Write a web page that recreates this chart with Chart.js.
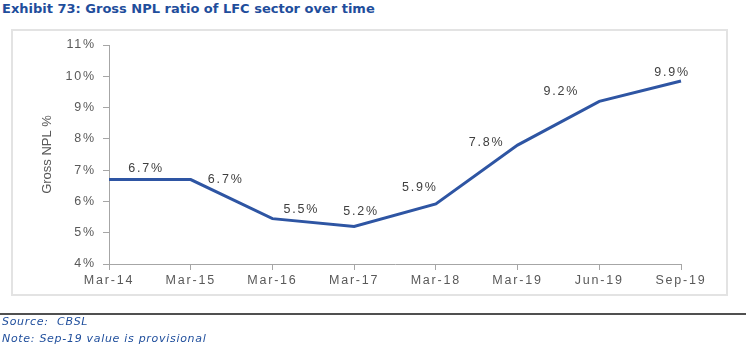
<!DOCTYPE html>
<html>
<head>
<meta charset="utf-8">
<script src="https://cdn.jsdelivr.net/npm/chart.js@4.4.0/dist/chart.umd.min.js"></script>
<style>
  body { margin: 0; background: #fff; }
  #wrap { position: relative; width: 750px; height: 349px; overflow: hidden; }
  #title { position: absolute; left: 2px; top: 1px; font: bold 13px "DejaVu Sans", sans-serif; color: #1f4e9c; white-space: nowrap; }
  #frame { position: absolute; left: 11px; top: 29px; width: 713px; height: 263px; border: 2px solid #e3e3e3; }
  #rule { position: absolute; left: 0; top: 313px; width: 746px; height: 0; border-top: 2px solid #505050; }
  .foot { position: absolute; left: 2px; font: italic 11px "DejaVu Sans", sans-serif; letter-spacing: 0.7px; color: #1f4e9c; white-space: nowrap; }
  #chart { position: absolute; left: 0; top: 0; }
</style>
</head>
<body>
<div id="wrap">
  <div id="title">Exhibit 73: Gross NPL ratio of LFC sector over time</div>
  <div id="frame"></div>
  <canvas id="chart" width="750" height="349"></canvas>
  <div id="rule"></div>
  <div class="foot" style="top:315px">Source:&nbsp; CBSL</div>
  <div class="foot" style="top:332px">Note: Sep-19 value is provisional</div>
</div>
<script>
// Gross NPL ratio (%)
const periods = ['Mar-14', 'Mar-15', 'Mar-16', 'Mar-17', 'Mar-18', 'Mar-19', 'Jun-19', 'Sep-19'];
const npl = [6.7, 6.7, 5.45, 5.2, 5.92, 7.8, 9.2, 9.85];
const nplLabels = ['6.7%', '6.7%', '5.5%', '5.2%', '5.9%', '7.8%', '9.2%', '9.9%'];

// where each value label sits relative to its point (px)
const labelShift = [[37, -11], [35, 0], [29, -9], [7, -15], [-16, -16], [-31, -3], [-38, -10], [-9, -8]];

const SPACING = '1.8px';

const valueLabels = {
    id: 'valueLabels',
    beforeDraw(chart) {
        chart.ctx.letterSpacing = SPACING;
    },
    afterDatasetsDraw(chart) {
        const c = chart.ctx;
        const pts = chart.getDatasetMeta(0).data;
        c.save();
        c.letterSpacing = SPACING;
        c.font = '12.5px "Liberation Sans", Arial, sans-serif';
        c.fillStyle = '#404040';
        c.textAlign = 'center';
        c.textBaseline = 'middle';
        pts.forEach((p, i) => {
            c.fillText(nplLabels[i], p.x + labelShift[i][0], p.y + labelShift[i][1]);
        });
        // axis title
        const area = chart.chartArea;
        c.letterSpacing = '0px';
        c.font = '13px "Liberation Sans Narrow", "Liberation Sans", Arial';
        c.fillStyle = '#595959';
        c.translate(47, (area.top + area.bottom) / 2);
        c.rotate(-Math.PI / 2);
        c.fillText('Gross NPL %', 0, 0);
        c.restore();
    }
};

const ctx = document.getElementById('chart').getContext('2d');
ctx.letterSpacing = SPACING;
const tickFont = { family: '"Liberation Sans", Arial', size: 12.5 };
const nplChart = new Chart(ctx, {
    type: 'line',
    data: {
        labels: periods,
        datasets: [{
            data: npl,
            borderColor: '#2e55a3',
            borderWidth: 3,
            pointRadius: 0,
            tension: 0,
            fill: false
        }]
    },
    options: {
        responsive: false,
        animation: false,
        layout: { padding: { left: 36, right: 69, top: 45, bottom: 0 } },
        plugins: { legend: { display: false }, tooltip: { enabled: false } },
        scales: {
            x: {
                grid: { drawOnChartArea: false, tickLength: 6, color: '#a6a6a6' },
                border: { color: '#a6a6a6', width: 1 },
                ticks: { color: '#595959', font: tickFont, padding: 3, maxRotation: 0, autoSkip: false },
                afterFit(s) { s.height = 85; }
            },
            y: {
                min: 4,
                max: 11,
                grid: { drawOnChartArea: false, tickLength: 6, color: '#a6a6a6' },
                border: { color: '#a6a6a6', width: 1 },
                ticks: { stepSize: 1, color: '#595959', font: tickFont, padding: 7, callback: v => v + '%' },
                afterFit(s) { s.width = 73; }
            }
        }
    },
    plugins: [valueLabels]
});
</script>
</body>
</html>
